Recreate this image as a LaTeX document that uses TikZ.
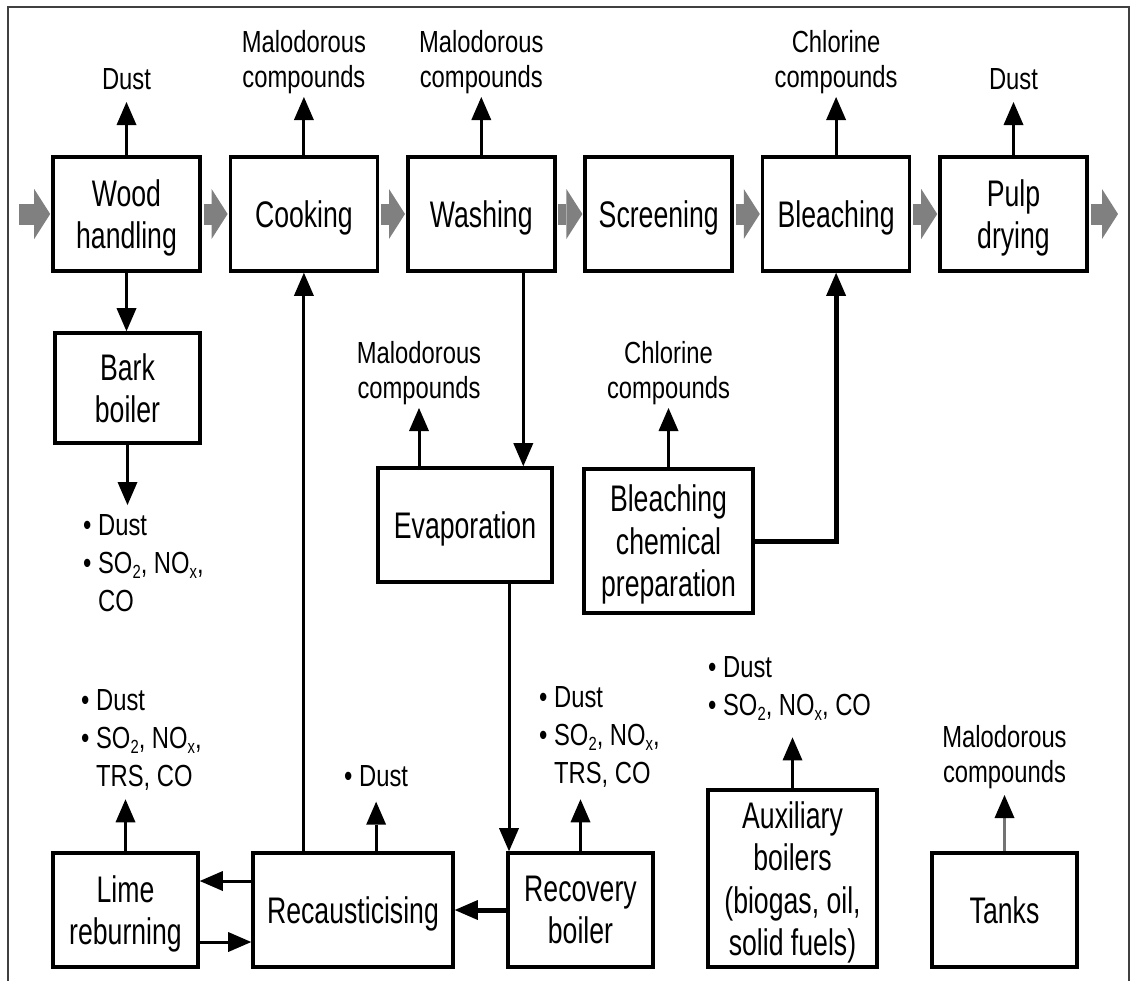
\documentclass[tikz,border=0pt]{standalone}
\usepackage{fontspec}
\setmainfont{Liberation Sans}
\newfontfamily\boxfont[FakeStretch=0.72]{Liberation Sans}
\newfontfamily\labfont[FakeStretch=0.78]{Liberation Sans}
\usetikzlibrary{arrows.meta,calc}
% lowered subscript in the current text font
\newcommand\lowsub[1]{\raisebox{-5pt}{\fontsize{19}{19}\selectfont #1}}
% bullet item and the matching indent for continuation lines
\newcommand\bul{\textbullet\ }
\newcommand\bulgap{\hphantom{\textbullet\ }}

\begin{document}
\begin{tikzpicture}[x=1pt,y=-1pt,
  stage/.style={draw, line width=3.6pt, inner sep=0pt, align=center, fill=white,
    text depth=0pt, font=\boxfont\fontsize{37}{42.5}\selectfont},
  rowbox/.style={stage, minimum width=147pt, minimum height=114pt},
  emis/.style={inner sep=0pt, align=center, anchor=south,
    font=\labfont\fontsize{30.5}{35}\selectfont},
  blist/.style={inner sep=0pt, align=left, anchor=north west,
    font=\labfont\fontsize{30.5}{38}\selectfont},
  pflow/.style={draw=black, line width=3pt,
    -{Triangle[length=23pt,width=20pt,line width=0pt]}},
  heavy/.style={pflow, line width=5pt},
  mainflow/.style={draw=gray, line width=21pt, shorten <=1.8pt, shorten >=1pt,
    -{Triangle[length=16pt,width=50pt,line width=0pt]}}
]
\useasboundingbox (0,0) rectangle (1131,980);

% outer frame
\draw[draw=black!75, line width=2pt] (8,995) -- (8,7) -- (1129,7) -- (1129,995);

% main fibre line
\node[rowbox] (wood)   at (126.5,214) {Wood\\handling};
\node[rowbox] (cook)   at (303.9,214) {Cooking};
\node[rowbox] (wash)   at (481.3,214) {Washing};
\node[rowbox] (screen) at (658.7,214) {Screening};
\node[rowbox] (bleach) at (836.1,214) {Bleaching};
\node[rowbox] (pulp)   at (1013.5,214) {Pulp\\drying};
\coordinate (feed) at (17,214);
\coordinate (exit) at (1119,214);

\draw[mainflow] (feed) -- (wood.west);
\draw[mainflow] (wood.east) -- (cook.west);
\draw[mainflow] (cook.east) -- (wash.west);
\draw[mainflow] (wash.east) -- (screen.west);
\draw[mainflow] (screen.east) -- (bleach.west);
\draw[mainflow] (bleach.east) -- (pulp.west);
\draw[mainflow] (pulp.east) -- (exit);

% emissions from the fibre line
\node[emis] (e1) at (126.5,90) {Dust};
\node[emis] (e2) at (303.9,94) {Malodorous\\compounds};
\node[emis] (e3) at (481.3,94) {Malodorous\\compounds};
\node[emis] (e4) at (836.1,94) {Chlorine\\compounds};
\node[emis] (e5) at (1013.5,90) {Dust};
\draw[pflow, shorten >=12pt] (wood.north) -- (e1.south);
\draw[pflow, shorten >=3pt] (cook.north) -- (e2.south);
\draw[pflow, shorten >=3pt] (wash.north) -- (e3.south);
\draw[pflow, shorten >=3pt] (bleach.north) -- (e4.south);
\draw[pflow, shorten >=12pt] (pulp.north) -- (e5.south);

% bark boiler
\node[stage, minimum width=145pt, minimum height=110pt] (bark) at (127.5,388) {Bark\\boiler};
\draw[pflow] (wood.south) -- (wood.south |- bark.north);
\node[blist] (bl) at (83,514) {\bul Dust\\\bul SO\lowsub{2}, NO\lowsub{x},\\\bulgap CO};
\draw[pflow, shorten >=9pt] (bark.south) -- (bark.south |- bl.north);

% evaporation
\node[emis] (e6) at (419,405) {Malodorous\\compounds};
\node[stage, minimum width=174pt, minimum height=114pt] (evap) at (465,525) {Evaporation};
\draw[pflow, shorten >=3pt] (e6.south |- evap.north) -- (e6.south);
\draw[pflow] ([xshift=42pt]wash.south) -- ([xshift=42pt]wash.south |- evap.north);

% bleaching chemical preparation
\node[emis] (e7) at (668.5,405) {Chlorine\\compounds};
\node[stage, minimum width=169pt, minimum height=144pt] (bcp) at (668.5,541) {Bleaching\\chemical\\preparation};
\draw[pflow, shorten >=3pt] (bcp.north) -- (e7.south);
\draw[heavy] (bcp.east) -| (bleach.south);

% chemical recovery and auxiliary units
\node[stage, minimum width=145pt, minimum height=114pt] (lime)   at (125.5,910) {Lime\\reburning};
\node[stage, minimum width=200pt, minimum height=114pt] (recaus) at (353,910) {Recausticising};
\node[stage, minimum width=145pt, minimum height=114pt] (recov)  at (580.5,910) {Recovery\\boiler};
\node[stage, minimum width=169pt, minimum height=177pt] (aux)    at (792.5,878.5) {Auxiliary\\boilers\\(biogas, oil,\\solid fuels)};
\node[stage, minimum width=145pt, minimum height=114pt] (tanks)  at (1004.5,910) {Tanks};

\draw[pflow] ([xshift=44pt]evap.south) -- ([xshift=44pt]evap.south |- recov.north);
\draw[pflow] (cook.south |- recaus.north) -- (cook.south);
\draw[heavy] (recov.west) -- (recaus.east);
\draw[pflow] ([yshift=29pt]recaus.west) -- ([yshift=29pt]recaus.west -| lime.east);
\draw[pflow] ([yshift=-32pt]lime.east) -- ([yshift=-32pt]lime.east -| recaus.west);

% emissions from the recovery area
\node[blist] (ll) at (81,689) {\bul Dust\\\bul SO\lowsub{2}, NO\lowsub{x},\\\bulgap TRS, CO};
\draw[pflow, shorten >=9pt] (lime.north) -- (lime.north |- ll.south);

\node[blist] (rl) at (344,765) {\bul Dust};
\draw[pflow, shorten >=15pt] (rl.south |- recaus.north) -- (rl.south);

\node[blist] (vl) at (539,686) {\bul Dust\\\bul SO\lowsub{2}, NO\lowsub{x},\\\bulgap TRS, CO};
\draw[pflow, shorten >=12pt] (recov.north) -- (recov.north |- vl.south);

\node[blist] (al) at (708,656) {\bul Dust\\\bul SO\lowsub{2}, NO\lowsub{x}, CO};
\draw[pflow, shorten >=17pt] (aux.north) -- (aux.north |- al.south);

\node[emis] (e8) at (1004.5,789) {Malodorous\\compounds};
\draw[pflow, draw=black!55, shorten >=6pt,
  -{Triangle[length=23pt,width=20pt,line width=0pt,color=black]}] (tanks.north) -- (e8.south);
\end{tikzpicture}
\end{document}
